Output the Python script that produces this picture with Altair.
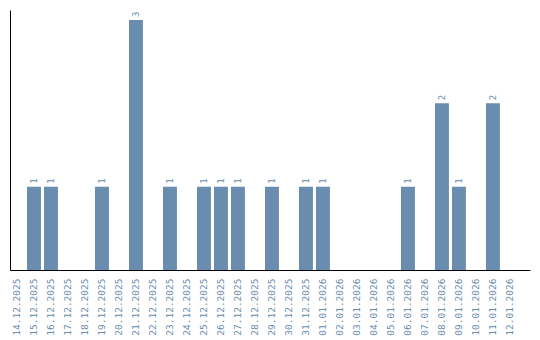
import altair as alt
import pandas as pd

dates = ["14.12.2025", "15.12.2025", "16.12.2025", "17.12.2025", "18.12.2025",
         "19.12.2025", "20.12.2025", "21.12.2025", "22.12.2025", "23.12.2025",
         "24.12.2025", "25.12.2025", "26.12.2025", "27.12.2025", "28.12.2025",
         "29.12.2025", "30.12.2025", "31.12.2025", "01.01.2026", "02.01.2026",
         "03.01.2026", "04.01.2026", "05.01.2026", "06.01.2026", "07.01.2026",
         "08.01.2026", "09.01.2026", "10.01.2026", "11.01.2026", "12.01.2026"]
counts = [0, 1, 1, 0, 0, 1, 0, 3, 0, 1, 0, 1, 1, 1, 0, 1, 0, 1, 1, 0,
          0, 0, 0, 1, 0, 2, 1, 0, 2, 0]

df = pd.DataFrame({"date": dates, "count": counts})
COLOR = "#6a8cae"

x = alt.X("date:N", sort=dates, title=None,
          scale=alt.Scale(paddingInner=0.18, paddingOuter=0.385, align=0),
          axis=alt.Axis(labelAngle=270, ticks=False, domainColor="black",
                        labelColor=COLOR, labelFont="DejaVu Sans Mono",
                        labelFontSize=9.5, labelPadding=8))
y = alt.Y("count:Q", title=None,
          scale=alt.Scale(domain=[0, 3.12], nice=False),
          axis=alt.Axis(labels=False, ticks=False, grid=False, domainColor="black"))

bars = alt.Chart(df).mark_bar(color=COLOR).encode(x=x, y=y)
text = alt.Chart(df).transform_filter("datum.count > 0").mark_text(
    angle=270, align="left", baseline="middle", dx=3,
    color=COLOR, font="DejaVu Sans Mono", fontSize=9
).encode(x=x, y=y, text="count:Q")

chart = (bars + text).properties(
    width=520, height=260,
    autosize=alt.AutoSizeParams(type="none"),
    padding={"left": 10, "top": 10, "right": 10, "bottom": 70},
).configure_view(stroke=None)

chart.save("out.html", embed_options={"renderer": "svg", "actions": False})
